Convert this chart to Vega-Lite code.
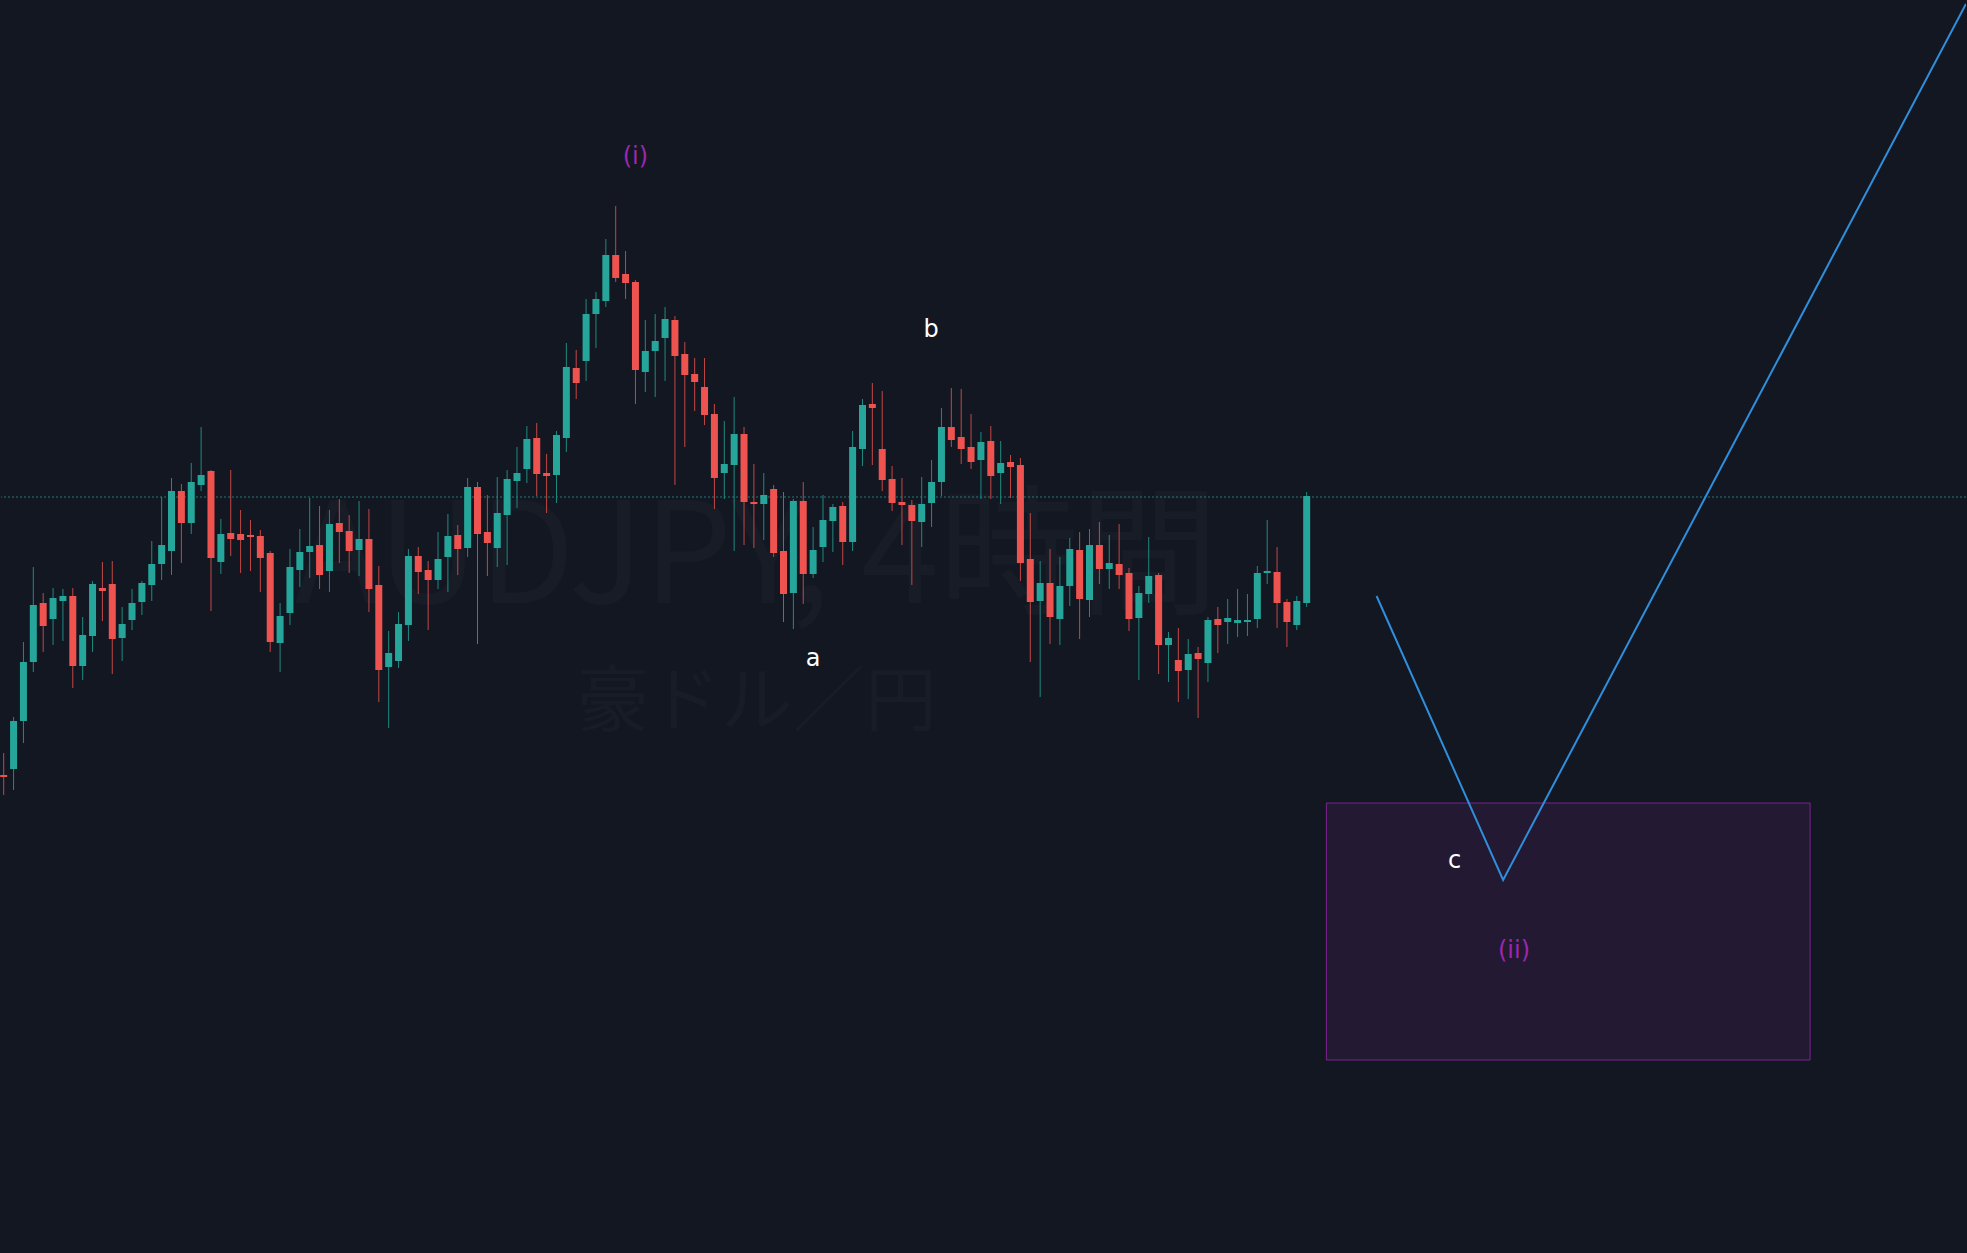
{
  "$schema": "https://vega.github.io/schema/vega-lite/v6.json",
  "width": 1967,
  "height": 1253,
  "autosize": {"type": "fit", "contains": "padding"},
  "padding": 0,
  "background": "#131722",
  "config": {"view": {"stroke": null}, "axis": {"disable": true}, "scale": {"continuousPadding": 0}},
  "datasets": {
    "candles": [
      {"i":1,"o":96.125,"h":96.235,"l":96.025,"c":96.115},
      {"i":2,"o":96.155,"h":96.415,"l":96.05,"c":96.395},
      {"i":3,"o":96.395,"h":96.79,"l":96.285,"c":96.69},
      {"i":4,"o":96.69,"h":97.165,"l":96.64,"c":96.975},
      {"i":5,"o":96.985,"h":97.035,"l":96.74,"c":96.87},
      {"i":6,"o":96.905,"h":97.06,"l":96.775,"c":97.01},
      {"i":7,"o":96.995,"h":97.055,"l":96.795,"c":97.02},
      {"i":8,"o":97.02,"h":97.06,"l":96.56,"c":96.67},
      {"i":9,"o":96.67,"h":96.915,"l":96.6,"c":96.825},
      {"i":10,"o":96.82,"h":97.095,"l":96.74,"c":97.08},
      {"i":11,"o":97.06,"h":97.19,"l":96.895,"c":97.045},
      {"i":12,"o":97.08,"h":97.195,"l":96.63,"c":96.805},
      {"i":13,"o":96.81,"h":96.965,"l":96.695,"c":96.88},
      {"i":14,"o":96.9,"h":97.055,"l":96.85,"c":96.985},
      {"i":15,"o":96.99,"h":97.095,"l":96.925,"c":97.085},
      {"i":16,"o":97.075,"h":97.295,"l":96.995,"c":97.18},
      {"i":17,"o":97.18,"h":97.515,"l":97.1,"c":97.275},
      {"i":18,"o":97.245,"h":97.61,"l":97.125,"c":97.545},
      {"i":19,"o":97.545,"h":97.58,"l":97.185,"c":97.385},
      {"i":20,"o":97.385,"h":97.685,"l":97.33,"c":97.59},
      {"i":21,"o":97.575,"h":97.865,"l":97.545,"c":97.625},
      {"i":22,"o":97.645,"h":97.65,"l":96.945,"c":97.21},
      {"i":23,"o":97.19,"h":97.405,"l":97.13,"c":97.33},
      {"i":24,"o":97.335,"h":97.65,"l":97.22,"c":97.305},
      {"i":25,"o":97.33,"h":97.45,"l":97.135,"c":97.3},
      {"i":26,"o":97.325,"h":97.4,"l":97.145,"c":97.315},
      {"i":27,"o":97.32,"h":97.35,"l":97.04,"c":97.21},
      {"i":28,"o":97.235,"h":97.245,"l":96.74,"c":96.79},
      {"i":29,"o":96.785,"h":96.985,"l":96.64,"c":96.92},
      {"i":30,"o":96.935,"h":97.255,"l":96.875,"c":97.165},
      {"i":31,"o":97.15,"h":97.355,"l":97.065,"c":97.24},
      {"i":32,"o":97.24,"h":97.51,"l":97.11,"c":97.27},
      {"i":33,"o":97.275,"h":97.47,"l":97.055,"c":97.125},
      {"i":34,"o":97.145,"h":97.45,"l":97.04,"c":97.38},
      {"i":35,"o":97.385,"h":97.505,"l":97.185,"c":97.34},
      {"i":36,"o":97.345,"h":97.425,"l":97.135,"c":97.245},
      {"i":37,"o":97.25,"h":97.495,"l":97.12,"c":97.305},
      {"i":38,"o":97.305,"h":97.455,"l":96.94,"c":97.055},
      {"i":39,"o":97.075,"h":97.17,"l":96.49,"c":96.65},
      {"i":40,"o":96.665,"h":96.845,"l":96.36,"c":96.735},
      {"i":41,"o":96.695,"h":96.94,"l":96.66,"c":96.88},
      {"i":42,"o":96.875,"h":97.255,"l":96.795,"c":97.22},
      {"i":43,"o":97.22,"h":97.265,"l":97.03,"c":97.14},
      {"i":44,"o":97.15,"h":97.195,"l":96.85,"c":97.1},
      {"i":45,"o":97.1,"h":97.34,"l":97.055,"c":97.205},
      {"i":46,"o":97.215,"h":97.43,"l":97.04,"c":97.32},
      {"i":47,"o":97.325,"h":97.375,"l":97.125,"c":97.255},
      {"i":48,"o":97.26,"h":97.61,"l":97.215,"c":97.565},
      {"i":49,"o":97.565,"h":97.59,"l":96.78,"c":97.33},
      {"i":50,"o":97.34,"h":97.525,"l":97.12,"c":97.285},
      {"i":51,"o":97.26,"h":97.615,"l":97.165,"c":97.435},
      {"i":52,"o":97.425,"h":97.65,"l":97.175,"c":97.605},
      {"i":53,"o":97.595,"h":97.765,"l":97.46,"c":97.635},
      {"i":54,"o":97.655,"h":97.87,"l":97.585,"c":97.805},
      {"i":55,"o":97.81,"h":97.885,"l":97.52,"c":97.63},
      {"i":56,"o":97.635,"h":97.73,"l":97.435,"c":97.62},
      {"i":57,"o":97.625,"h":97.845,"l":97.485,"c":97.825},
      {"i":58,"o":97.81,"h":98.285,"l":97.74,"c":98.165},
      {"i":59,"o":98.16,"h":98.25,"l":98.005,"c":98.085},
      {"i":60,"o":98.195,"h":98.505,"l":98.095,"c":98.43},
      {"i":61,"o":98.43,"h":98.54,"l":98.26,"c":98.505},
      {"i":62,"o":98.495,"h":98.805,"l":98.465,"c":98.725},
      {"i":63,"o":98.725,"h":98.97,"l":98.59,"c":98.61},
      {"i":64,"o":98.63,"h":98.745,"l":98.505,"c":98.585},
      {"i":65,"o":98.59,"h":98.6,"l":97.98,"c":98.15},
      {"i":66,"o":98.14,"h":98.4,"l":98.04,"c":98.245},
      {"i":67,"o":98.245,"h":98.43,"l":98.015,"c":98.295},
      {"i":68,"o":98.31,"h":98.465,"l":98.095,"c":98.405},
      {"i":69,"o":98.4,"h":98.42,"l":97.575,"c":98.22},
      {"i":70,"o":98.23,"h":98.29,"l":97.765,"c":98.125},
      {"i":71,"o":98.13,"h":98.21,"l":97.945,"c":98.09},
      {"i":72,"o":98.065,"h":98.21,"l":97.875,"c":97.925},
      {"i":73,"o":97.93,"h":97.98,"l":97.455,"c":97.61},
      {"i":74,"o":97.635,"h":97.895,"l":97.505,"c":97.68},
      {"i":75,"o":97.675,"h":98.015,"l":97.245,"c":97.83},
      {"i":76,"o":97.83,"h":97.865,"l":97.275,"c":97.49},
      {"i":77,"o":97.49,"h":97.68,"l":97.26,"c":97.48},
      {"i":78,"o":97.48,"h":97.635,"l":97.3,"c":97.525},
      {"i":79,"o":97.555,"h":97.575,"l":97.215,"c":97.235},
      {"i":80,"o":97.245,"h":97.54,"l":96.89,"c":97.03},
      {"i":81,"o":97.035,"h":97.505,"l":96.855,"c":97.495},
      {"i":82,"o":97.495,"h":97.59,"l":96.98,"c":97.13},
      {"i":83,"o":97.13,"h":97.365,"l":97.11,"c":97.25},
      {"i":84,"o":97.265,"h":97.525,"l":97.19,"c":97.4},
      {"i":85,"o":97.395,"h":97.48,"l":97.24,"c":97.465},
      {"i":86,"o":97.47,"h":97.49,"l":97.175,"c":97.29},
      {"i":87,"o":97.29,"h":97.845,"l":97.245,"c":97.765},
      {"i":88,"o":97.755,"h":98.005,"l":97.67,"c":97.975},
      {"i":89,"o":97.98,"h":98.085,"l":97.675,"c":97.96},
      {"i":90,"o":97.755,"h":98.045,"l":97.545,"c":97.6},
      {"i":91,"o":97.605,"h":97.67,"l":97.445,"c":97.485},
      {"i":92,"o":97.49,"h":97.61,"l":97.275,"c":97.475},
      {"i":93,"o":97.475,"h":97.5,"l":97.075,"c":97.395},
      {"i":94,"o":97.39,"h":97.615,"l":97.265,"c":97.48},
      {"i":95,"o":97.485,"h":97.7,"l":97.365,"c":97.59},
      {"i":96,"o":97.59,"h":97.96,"l":97.52,"c":97.865},
      {"i":97,"o":97.865,"h":98.06,"l":97.765,"c":97.8},
      {"i":98,"o":97.815,"h":98.055,"l":97.68,"c":97.755},
      {"i":99,"o":97.765,"h":97.93,"l":97.655,"c":97.69},
      {"i":100,"o":97.7,"h":97.84,"l":97.505,"c":97.79},
      {"i":101,"o":97.795,"h":97.87,"l":97.505,"c":97.62},
      {"i":102,"o":97.635,"h":97.795,"l":97.48,"c":97.685},
      {"i":103,"o":97.69,"h":97.725,"l":97.51,"c":97.665},
      {"i":104,"o":97.675,"h":97.71,"l":97.095,"c":97.185},
      {"i":105,"o":97.205,"h":97.435,"l":96.69,"c":96.99},
      {"i":106,"o":96.995,"h":97.195,"l":96.515,"c":97.085},
      {"i":107,"o":97.085,"h":97.255,"l":96.78,"c":96.915},
      {"i":108,"o":96.905,"h":97.215,"l":96.775,"c":97.07},
      {"i":109,"o":97.07,"h":97.31,"l":96.97,"c":97.255},
      {"i":110,"o":97.25,"h":97.34,"l":96.805,"c":97.005},
      {"i":111,"o":97.0,"h":97.355,"l":96.915,"c":97.275},
      {"i":112,"o":97.275,"h":97.39,"l":97.08,"c":97.155},
      {"i":113,"o":97.155,"h":97.325,"l":97.055,"c":97.185},
      {"i":114,"o":97.18,"h":97.38,"l":97.055,"c":97.125},
      {"i":115,"o":97.135,"h":97.16,"l":96.845,"c":96.905},
      {"i":116,"o":96.91,"h":97.07,"l":96.6,"c":97.035},
      {"i":117,"o":97.03,"h":97.315,"l":96.985,"c":97.12},
      {"i":118,"o":97.125,"h":97.135,"l":96.63,"c":96.775},
      {"i":119,"o":96.775,"h":96.84,"l":96.59,"c":96.81},
      {"i":120,"o":96.7,"h":96.86,"l":96.49,"c":96.645},
      {"i":121,"o":96.65,"h":96.805,"l":96.505,"c":96.73},
      {"i":122,"o":96.735,"h":96.765,"l":96.41,"c":96.705},
      {"i":123,"o":96.685,"h":96.915,"l":96.59,"c":96.9},
      {"i":124,"o":96.905,"h":96.965,"l":96.735,"c":96.875},
      {"i":125,"o":96.89,"h":97.005,"l":96.78,"c":96.91},
      {"i":126,"o":96.885,"h":97.055,"l":96.815,"c":96.9},
      {"i":127,"o":96.89,"h":97.03,"l":96.82,"c":96.9},
      {"i":128,"o":96.905,"h":97.17,"l":96.86,"c":97.135},
      {"i":129,"o":97.135,"h":97.4,"l":97.08,"c":97.145},
      {"i":130,"o":97.14,"h":97.265,"l":96.86,"c":96.985},
      {"i":131,"o":96.99,"h":97.005,"l":96.765,"c":96.89},
      {"i":132,"o":96.875,"h":97.02,"l":96.85,"c":96.995},
      {"i":133,"o":96.985,"h":97.54,"l":96.965,"c":97.52}
    ],
    "labels": [
      {"i":65.0,"p":99.215,"txt":"(i)","kind":"wave"},
      {"i":94.95,"p":98.35,"txt":"b","kind":"sub"},
      {"i":83.0,"p":96.705,"txt":"a","kind":"sub"},
      {"i":147.98,"p":95.695,"txt":"c","kind":"sub"},
      {"i":154.0,"p":95.245,"txt":"(ii)","kind":"wave"}
    ],
    "path": [
      {"k":1,"i":140.08,"p":97.02},
      {"k":2,"i":152.9,"p":95.6},
      {"k":3,"i":199.79,"p":99.98}
    ],
    "zone": [
      {"i1":135.0,"i2":184.0,"p1":95.985,"p2":94.7}
    ],
    "last": [
      {"p":97.515}
    ],
    "wm1": [
      {"i":77.3,"p":96.985,"txt":"AUDJPY, 4時間"}
    ],
    "wm2": [
      {"i":77.3,"p":96.485,"txt":"豪ドル／円"}
    ]
  },
  "layer": [
    {
      "data": {"name": "wm1"},
      "mark": {"type": "text", "font": "Noto Sans CJK JP", "fontSize": 140, "baseline": "alphabetic", "align": "center", "fill": "#ffffff", "fillOpacity": 0.025},
      "encoding": {
        "x": {"field": "i", "type": "quantitative", "scale": {"domain": [0.7267, 199.794], "nice": false, "zero": false, "padding": 0}, "axis": null},
        "y": {"field": "p", "type": "quantitative", "scale": {"domain": [93.735, 100], "nice": false, "zero": false, "padding": 0}, "axis": null},
        "text": {"field": "txt"}
      }
    },
    {
      "data": {"name": "wm2"},
      "mark": {"type": "text", "font": "Noto Sans CJK JP", "fontSize": 72, "baseline": "middle", "align": "center", "fill": "#ffffff", "fillOpacity": 0.025},
      "encoding": {
        "x": {"field": "i", "type": "quantitative"},
        "y": {"field": "p", "type": "quantitative"},
        "text": {"field": "txt"}
      }
    },
    {
      "data": {"name": "zone"},
      "mark": {"type": "rect", "fill": "#9c27b0", "fillOpacity": 0.12, "stroke": "#9c27b0", "strokeOpacity": 0.75, "strokeWidth": 1},
      "encoding": {
        "x": {"field": "i1", "type": "quantitative"},
        "x2": {"field": "i2"},
        "y": {"field": "p1", "type": "quantitative"},
        "y2": {"field": "p2"}
      }
    },
    {
      "data": {"name": "last"},
      "mark": {"type": "rule", "stroke": "#2a9d95", "strokeOpacity": 0.75, "strokeWidth": 1, "strokeDash": [2, 2]},
      "encoding": {
        "y": {"field": "p", "type": "quantitative"}
      }
    },
    {
      "data": {"name": "candles"},
      "mark": {"type": "rule", "strokeWidth": 1},
      "encoding": {
        "x": {"field": "i", "type": "quantitative"},
        "y": {"field": "l", "type": "quantitative"},
        "y2": {"field": "h"},
        "color": {"condition": {"test": "datum.c >= datum.o", "value": "#1f8a80"}, "value": "#c24846"}
      }
    },
    {
      "data": {"name": "candles"},
      "mark": {"type": "bar", "size": 7, "minBandSize": 1},
      "encoding": {
        "x": {"field": "i", "type": "quantitative"},
        "y": {"field": "o", "type": "quantitative"},
        "y2": {"field": "c"},
        "color": {"condition": {"test": "datum.c >= datum.o", "value": "#26a69a"}, "value": "#ef5350"}
      }
    },
    {
      "data": {"name": "path"},
      "mark": {"type": "line", "stroke": "#2f8fdc", "strokeWidth": 2, "clip": true},
      "encoding": {
        "x": {"field": "i", "type": "quantitative"},
        "y": {"field": "p", "type": "quantitative"},
        "order": {"field": "k", "type": "quantitative"}
      }
    },
    {
      "data": {"name": "labels"},
      "mark": {"type": "text", "font": "DejaVu Sans", "fontSize": 24, "baseline": "middle", "align": "center"},
      "encoding": {
        "x": {"field": "i", "type": "quantitative"},
        "y": {"field": "p", "type": "quantitative"},
        "text": {"field": "txt"},
        "color": {"condition": {"test": "datum.kind === 'wave'", "value": "#9c27b0"}, "value": "#ffffff"}
      }
    }
  ]
}
